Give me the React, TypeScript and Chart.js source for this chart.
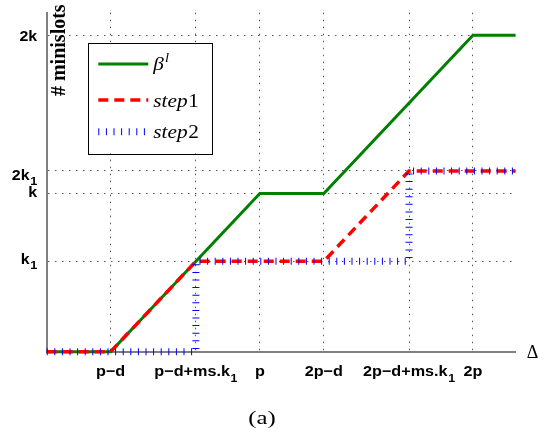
import { useEffect, useRef } from "react";
import { Chart, registerables } from "chart.js";

Chart.register(...registerables);

// ---- data ----
const xTickValues = [3, 7, 10, 13, 17, 20];
const xTickLabels = ["p−d", "p−d+ms.k₁", "p", "2p−d", "2p−d+ms.k₁", "2p"];
const yTickValues = [4, 7, 8, 14];
const yTickLabels = ["k₁", "k", "2k₁", "2k"];

const betaX = [0, 3, 10, 13, 20, 22];
const betaY = [0, 0, 7, 7, 14, 14];
const step1X = [0, 3, 7, 13, 17, 22];
const step1Y = [0, 0, 4, 4, 8, 8];
const step2X = [0, 7, 7, 17, 17, 22];
const step2Y = [0, 0, 4, 4, 8, 8];

const yTitle = "# minislots";
const xTitle = "Δ";
const caption = "(a)";

const GREEN = "#008000";
const RED = "#ff0000";
const BLUE = "#0000ff";

const toPts = (xs: number[], ys: number[]) => xs.map((x, i) => ({ x, y: ys[i] }));

const SANS = "'Liberation Sans', Arial, sans-serif";
const SERIF = "'Liberation Serif', 'Times New Roman', serif";
const SUBS = "₀₁₂₃₄₅₆₇₈₉";

const W = 554;
const H = 439;

// split "2k₁" -> base "2k", sub "1"
function splitSub(label: string) {
  let base = "";
  let sub = "";
  for (const ch of label) {
    const i = SUBS.indexOf(ch);
    if (i >= 0) sub += String(i);
    else base += ch;
  }
  return { base, sub };
}

function drawLabel(
  ctx: CanvasRenderingContext2D,
  label: string,
  x: number,
  baseline: number,
  align: "center" | "right",
  size: number,
  subSize: number,
  subDrop: number,
  sx: number
) {
  const { base, sub } = splitSub(label);
  ctx.font = `bold ${size}px ${SANS}`;
  const wb = ctx.measureText(base).width;
  ctx.font = `bold ${subSize}px ${SANS}`;
  const ws = sub ? ctx.measureText(sub).width + 0.5 : 0;
  const total = (wb + ws) * sx;
  const x0 = align === "center" ? x - total / 2 : x - total;
  ctx.save();
  ctx.translate(x0, baseline);
  ctx.scale(sx, 1);
  ctx.textAlign = "left";
  ctx.textBaseline = "alphabetic";
  ctx.font = `bold ${size}px ${SANS}`;
  ctx.fillText(base, 0, 0);
  if (sub) {
    ctx.font = `bold ${subSize}px ${SANS}`;
    ctx.fillText(sub, wb + 0.5, subDrop);
  }
  ctx.restore();
}

const extras = {
  id: "extras",
  afterDraw(chart: any) {
    const ctx: CanvasRenderingContext2D = chart.ctx;
    const { left, top, right, bottom } = chart.chartArea;
    const xs = chart.scales.x;
    const ys = chart.scales.y;
    ctx.save();
    ctx.fillStyle = "#000";

    // tick labels
    xTickValues.forEach((v, i) => {
      drawLabel(ctx, xTickLabels[i], xs.getPixelForValue(v), bottom + 24, "center", 15, 11.5, 6, 1.08);
    });
    const yBaseShift = [2.5, 3, 9.5, 6];
    yTickValues.forEach((v, i) => {
      drawLabel(ctx, yTickLabels[i], left - 9.5, ys.getPixelForValue(v) + yBaseShift[i], "right", 14.5, 11.5, 5, 1.1);
    });

    // y title (rotated, inside plot)
    ctx.save();
    ctx.translate(left + 13.5, top + 37.5);
    ctx.rotate(-Math.PI / 2);
    ctx.font = `bold 20px ${SERIF}`;
    ctx.textAlign = "center";
    ctx.textBaseline = "middle";
    ctx.fillText(yTitle, 0, 0);
    ctx.restore();

    // x title
    ctx.font = `18px ${SERIF}`;
    ctx.textAlign = "center";
    ctx.textBaseline = "middle";
    ctx.fillText(xTitle, right + 17, bottom + 1.5);

    // caption
    ctx.save();
    ctx.translate(262, 419);
    ctx.scale(1.3, 1);
    ctx.font = `19px ${SERIF}`;
    ctx.textAlign = "center";
    ctx.textBaseline = "middle";
    ctx.fillText(caption, 0, 0);
    ctx.restore();

    // legend
    const lx = left + 41.6, ly = top + 30, lw = 124, lh = 110.6;
    ctx.fillStyle = "#fff";
    ctx.fillRect(lx, ly, lw, lh);
    ctx.strokeStyle = "#000";
    ctx.lineWidth = 1;
    ctx.strokeRect(Math.round(lx) + 0.5, Math.round(ly) + 0.5, Math.round(lw), Math.round(lh));

    const sx1 = lx + 10, sx2 = lx + 60, tx = lx + 65;
    const rows = [ly + 21.3, ly + 57.3, ly + 89];
    ctx.lineCap = "butt";
    ctx.beginPath(); ctx.strokeStyle = GREEN; ctx.lineWidth = 3; ctx.setLineDash([]);
    ctx.moveTo(sx1, rows[0]); ctx.lineTo(sx2, rows[0]); ctx.stroke();
    ctx.beginPath(); ctx.strokeStyle = RED; ctx.lineWidth = 3.5; ctx.setLineDash([10, 6]);
    ctx.moveTo(sx1, rows[1]); ctx.lineTo(sx2, rows[1]); ctx.stroke();
    ctx.beginPath(); ctx.strokeStyle = BLUE; ctx.lineWidth = 7; ctx.setLineDash([1, 6.6]);
    ctx.moveTo(sx1, rows[2]); ctx.lineTo(sx2, rows[2]); ctx.stroke();
    ctx.setLineDash([]);

    ctx.fillStyle = "#000";
    ctx.textAlign = "left";
    ctx.textBaseline = "alphabetic";
    const lsx = 1.12;
    // beta^l
    ctx.save();
    ctx.translate(tx, rows[0] + 6);
    ctx.scale(lsx, 1);
    ctx.font = `italic 19px ${SERIF}`;
    ctx.fillText("β", 0, 0);
    const bw = ctx.measureText("β").width;
    ctx.font = `italic 13px ${SERIF}`;
    ctx.fillText("l", bw + 1, -8);
    ctx.restore();
    // step1, step2
    const names = ["1", "2"];
    [rows[1], rows[2]].forEach((ry, i) => {
      ctx.save();
      ctx.translate(tx, ry + 6.5);
      ctx.scale(lsx, 1);
      ctx.font = `italic 19px ${SERIF}`;
      ctx.fillText("step", 0, 0);
      const w = ctx.measureText("step").width;
      ctx.font = `19px ${SERIF}`;
      ctx.fillText(names[i], w + 0.5, 0);
      ctx.restore();
    });

    ctx.restore();
  },
};

export default function App() {
  const ref = useRef<HTMLCanvasElement>(null);
  useEffect(() => {
    if (!ref.current) return;
    const chart = new Chart(ref.current, {
      type: "line",
      data: {
        datasets: [
          {
            label: "step2",
            data: toPts(step2X, step2Y),
            borderColor: BLUE,
            borderWidth: 7,
            borderDash: [1, 6.6],
            pointRadius: 0,
            tension: 0,
            clip: false as any,
            order: 1,
          },
          {
            label: "step1",
            data: toPts(step1X, step1Y),
            borderColor: RED,
            borderWidth: 3.5,
            borderDash: [10, 6],
            pointRadius: 0,
            tension: 0,
            clip: false as any,
            order: 2,
          },
          {
            label: "beta",
            data: toPts(betaX, betaY),
            borderColor: GREEN,
            borderWidth: 3,
            pointRadius: 0,
            tension: 0,
            clip: false as any,
            order: 3,
          },
        ],
      },
      options: {
        animation: false,
        responsive: false,
        layout: { padding: { left: 0, right: 38.4, top: 12.7, bottom: 0 } },
        plugins: { legend: { display: false }, tooltip: { enabled: false } },
        scales: {
          x: {
            type: "linear",
            min: 0,
            max: 22,
            afterBuildTicks: (s: any) => {
              s.ticks = xTickValues.map((v) => ({ value: v }));
            },
            afterFit: (s: any) => {
              s.height = 87.3;
              s.paddingLeft = 0;
              s.paddingRight = 0;
            },
            ticks: { display: false },
            grid: { color: "#555", lineWidth: 1, drawTicks: false },
            border: { display: true, color: "#808080", width: 2, dash: [1.5, 5.5] },
          },
          y: {
            type: "linear",
            min: 0,
            max: 15,
            afterBuildTicks: (s: any) => {
              s.ticks = yTickValues.map((v) => ({ value: v }));
            },
            afterFit: (s: any) => {
              s.width = 46.7;
              s.paddingTop = 0;
              s.paddingBottom = 0;
            },
            ticks: { display: false },
            grid: { color: "#555", lineWidth: 1, drawTicks: false },
            border: { display: true, color: "#808080", width: 2, dash: [1.5, 5.5] },
          },
        },
      },
      plugins: [extras],
    });
    return () => chart.destroy();
  }, []);
  return (
    <div style={{ position: "absolute", left: 0, top: 0, width: W, height: H }}>
      <canvas ref={ref} width={W} height={H} style={{ display: "block" }} />
    </div>
  );
}
